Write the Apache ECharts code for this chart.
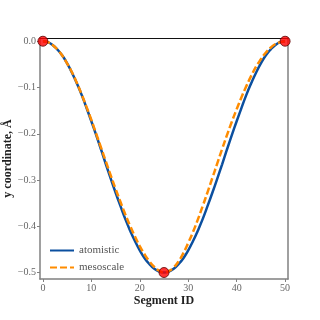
<!DOCTYPE html>
<html>
<head>
<meta charset="utf-8">
<script src="https://cdn.jsdelivr.net/npm/echarts@6/dist/echarts.min.js"></script>
<style>
  html, body { margin: 0; padding: 0; background: #fff; }
  #chart { width: 320px; height: 320px; }
</style>
</head>
<body>
<div id="chart"></div>
<script>
// segment ids 0..50
var segments = [];
for (var i = 0; i <= 50; i++) segments.push(i);

var atomistic = [0, -0.002, -0.008, -0.018, -0.031, -0.048, -0.068, -0.091, -0.116, -0.144,
  -0.173, -0.203, -0.234, -0.266, -0.297, -0.327, -0.356, -0.384, -0.409, -0.432,
  -0.452, -0.469, -0.482, -0.492, -0.498, -0.5, -0.498, -0.492, -0.482, -0.469,
  -0.452, -0.432, -0.409, -0.384, -0.356, -0.327, -0.297, -0.266, -0.234, -0.203,
  -0.173, -0.144, -0.116, -0.091, -0.068, -0.048, -0.031, -0.018, -0.008, -0.002, 0];
var mesoscale = [0, -0.002, -0.008, -0.018, -0.031, -0.048, -0.067, -0.090, -0.115, -0.142,
  -0.170, -0.200, -0.230, -0.260, -0.290, -0.319, -0.347, -0.374, -0.399, -0.422,
  -0.443, -0.461, -0.476, -0.488, -0.496, -0.5, -0.497, -0.489, -0.476, -0.458,
  -0.436, -0.412, -0.385, -0.356, -0.326, -0.295, -0.264, -0.233, -0.203, -0.174,
  -0.147, -0.121, -0.097, -0.075, -0.055, -0.039, -0.025, -0.014, -0.006, -0.002, 0];
var pinned = [[0, 0], [25, -0.5], [50, 0]];

var xTicks = [0, 10, 20, 30, 40, 50];
var yTicks = [0, -0.1, -0.2, -0.3, -0.4, -0.5];

var serif = '"Liberation Serif", "DejaVu Serif", serif';
var gray = '#808080';

var chart = echarts.init(document.getElementById('chart'));
chart.setOption({
  animation: false,
  grid: { left: 40, right: 32, top: 38, bottom: 41, outerBoundsMode: 'none', containLabel: false },
  legend: {
    data: ['atomistic', 'mesoscale'],
    orient: 'vertical',
    left: 44,
    top: 240,
    itemWidth: 24,
    itemHeight: 10,
    itemGap: 6,
    itemStyle: { opacity: 0 },
    textStyle: { fontFamily: serif, fontSize: 11, color: '#555' }
  },
  xAxis: [{
    type: 'value',
    min: -0.6,
    max: 50.6,
    name: 'Segment ID',
    nameLocation: 'middle',
    nameGap: 16,
    nameMoveOverlap: false,
    nameTextStyle: { fontFamily: serif, fontSize: 12, fontWeight: 'bold', color: '#222' },
    axisLine: { onZero: false, lineStyle: { color: gray, width: 1.5 } },
    axisTick: { show: true, length: 3, customValues: xTicks, lineStyle: { color: gray } },
    axisLabel: { customValues: xTicks, fontFamily: serif, fontSize: 10, color: '#666', margin: 4 },
    splitLine: { show: false }
  }, {
    type: 'value',
    position: 'top',
    min: -0.6,
    max: 50.6,
    axisLine: { onZero: false, lineStyle: { color: '#111', width: 1.2 } },
    axisTick: { show: false },
    axisLabel: { show: false },
    splitLine: { show: false }
  }],
  yAxis: [{
    type: 'value',
    min: -0.514,
    max: 0.007,
    name: 'y coordinate, Å',
    nameLocation: 'middle',
    nameGap: 26,
    nameMoveOverlap: false,
    nameTextStyle: { fontFamily: serif, fontSize: 12, fontWeight: 'bold', color: '#222' },
    axisLine: { show: true, onZero: false, lineStyle: { color: gray, width: 1.5 } },
    axisTick: { show: true, length: 3, customValues: yTicks, lineStyle: { color: gray } },
    axisLabel: {
      customValues: yTicks,
      fontFamily: serif, fontSize: 10, color: '#666', margin: 4,
      formatter: function (v) { return v.toFixed(1).replace('-', '\u2212'); }
    },
    splitLine: { show: false }
  }, {
    type: 'value',
    position: 'right',
    min: -0.514,
    max: 0.007,
    axisLine: { show: true, onZero: false, lineStyle: { color: gray, width: 1.5 } },
    axisTick: { show: false },
    axisLabel: { show: false },
    splitLine: { show: false }
  }],
  series: [{
    name: 'atomistic',
    type: 'line',
    data: segments.map(function (s, i) { return [s, atomistic[i]]; }),
    smooth: true,
    symbol: 'none',
    lineStyle: { color: '#0b4f9f', width: 2.5 },
    itemStyle: { color: '#0b4f9f' },
    z: 2
  }, {
    name: 'mesoscale',
    type: 'line',
    data: segments.map(function (s, i) { return [s, mesoscale[i]]; }),
    smooth: true,
    symbol: 'none',
    lineStyle: { color: '#ff8c00', width: 2.5, type: [7, 3] },
    itemStyle: { color: '#ff8c00' },
    z: 3
  }, {
    name: 'pinned',
    type: 'scatter',
    data: pinned,
    symbolSize: 10,
    itemStyle: { color: '#ff0000', borderColor: '#5a0000', borderWidth: 1 },
    z: 4
  }]
});
</script>
</body>
</html>
